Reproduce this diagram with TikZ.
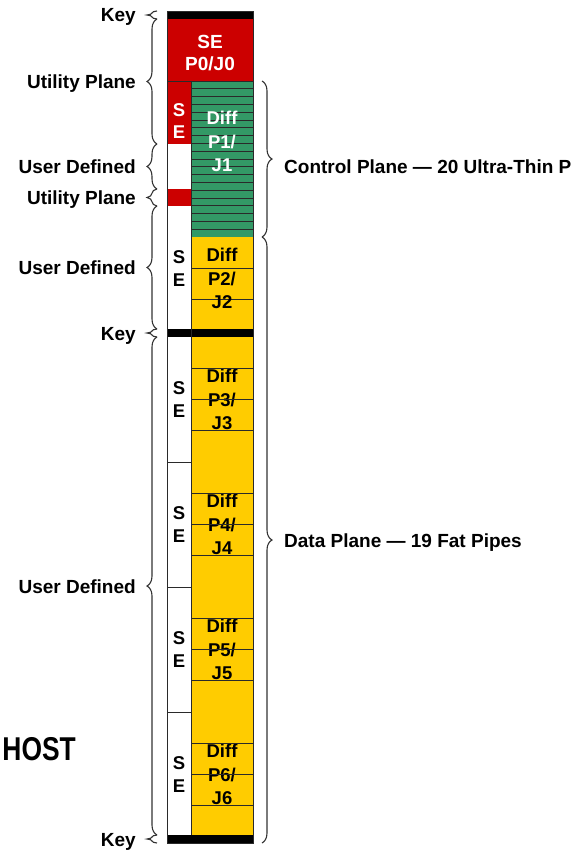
\documentclass[tikz,border=0pt]{standalone}
\usepackage{fontspec}
\setmainfont{Liberation Sans}
\usepackage{tikz}
\usetikzlibrary{decorations.pathreplacing}
\definecolor{seRed}{HTML}{CC0000}
\definecolor{pipeGreen}{HTML}{339966}
\definecolor{pipeGold}{HTML}{FFCC00}
\definecolor{rule}{HTML}{2A2A2A}

\begin{document}
\begin{tikzpicture}[x=1pt,y=-1pt,
  lab/.style={inner sep=0pt,text=black,font=\bfseries\fontsize{19}{22}\selectfont},
  cell/.style={align=center,inner sep=0pt,font=\bfseries\fontsize{18.5}{23.5}\selectfont},
  brc/.style={decorate,decoration={brace,amplitude=10pt},line width=1.1pt,black!80}]
  \useasboundingbox (0,0) rectangle (577,851);

  % utility plane, control pipes
  \fill[seRed] (167,19) rectangle (253,81);
  \node[cell,text=white,font=\bfseries\fontsize{19}{22}\selectfont] (p0) at (210,53) {SE\\P0/J0};
  \fill[seRed] (167,81) rectangle (191,144);
  \fill[seRed] (167,189) rectangle (191,206);
  \node[cell,text=white,font=\bfseries\fontsize{18.5}{22}\selectfont] (se0) at (179,121.5) {S\\E};
  \fill[pipeGreen] (191,81) rectangle (253,237);
  \foreach \k in {1,...,20}
    \draw[rule,line width=0.9pt] (191,{81+7.8*\k}) -- (253,{81+7.8*\k});
  \node[cell,text=white] (p1) at (222,141.5) {Diff\\P1/\\J1};

  % data pipes
  \fill[pipeGold] (191,237) rectangle (253,329);
  \foreach \r in {268,299}
    \draw[rule,line width=0.8pt] (191,\r) -- (253,\r);
  \node[cell] (p2) at (222,278.5) {Diff\\P2/\\J2};
  \node[cell,font=\bfseries\fontsize{18.5}{23}\selectfont] (se2) at (179,268.5) {S\\E};
  \foreach \t/\n in {337/3,462/4,587/5,712/6} {
    \fill[pipeGold] (191,\t) rectangle (253,{\t+125});
    \node[cell] (p\n) at (222,{\t+62.5}) {Diff\\P\n/\\J\n};
    \node[cell,font=\bfseries\fontsize{18.5}{23}\selectfont] (se\n) at (179,{\t+62.5}) {S\\E};
    \foreach \d in {31,62,93}
      \draw[rule,line width=0.8pt] (191,{\t+\d}) -- (253,{\t+\d});
    \draw[rule,line width=0.8pt] (167,{\t+125}) -- (253,{\t+125});
  }

  % key bars and outline
  \foreach \t in {11,329,835}
    \fill[black] (167,\t) rectangle (253,{\t+8});
  \draw[rule,line width=0.9pt] (167,81) -- (253,81);
  \draw[rule,line width=0.9pt] (191,81) -- (191,835);
  \draw[rule,line width=0.9pt] (167,11) rectangle (253,843);

  % left braces
  \foreach \a/\b/\txt/\nm in {11/19/Key/k1,19/144/Utility Plane/u1,
      144/189/User Defined/d1,189/206/Utility Plane/u2,206/329/User Defined/d2,
      329/337/Key/k2,337/835/User Defined/d3,835/843/Key/k3} {
    \draw[brc] (157,\b) -- (157,\a);
    \node[lab,anchor=base east] (\nm) at (136,{(\a+\b)/2+7}) {\txt};
  }

  % right braces
  \draw[brc] (262,81) -- (262,237);
  \draw[brc] (262,237) -- (262,843);
  \node[lab,anchor=base west] (ctrl) at (284,173) {Control Plane — 20 Ultra-Thin P};
  \node[lab,anchor=base west] (data) at (284,547) {Data Plane — 19 Fat Pipes};

  \node[anchor=base east,inner sep=0pt,font=\bfseries\fontsize{33}{33}\selectfont] (host) at (76,760) {\scalebox{0.8}[1]{HOST}};
\end{tikzpicture}
\end{document}
